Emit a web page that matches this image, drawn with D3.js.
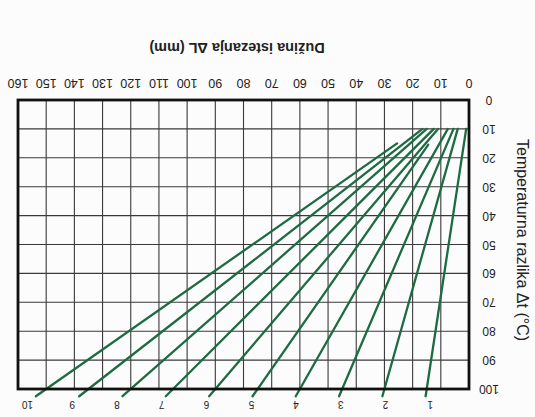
<html>
<head>
<script src="https://d3js.org/d3.v7.min.js"></script>
<style>
  body { margin: 0; background: #fcfcfc; }
  svg { display: block; }
  text { font-family: "Liberation Sans", Arial, sans-serif; fill: #222; }
</style>
</head>
<body>
<svg width="535" height="417"></svg>
<script>
// values
var lengthTicks = [0, 10, 20, 30, 40, 50, 60, 70, 80, 90, 100, 110, 120, 130, 140, 150, 160];
var tempTicks = [0, 10, 20, 30, 40, 50, 60, 70, 80, 90, 100];
var pipeLabels = ["1", "2", "3", "4", "5", "6", "7", "8", "9", "10"];
var startDL = [1, 4, 5.5, 7.5, 14.5, 11, 12.5, 15, 16.5, 25.5];
var startDT = [10, 10, 10, 10, 15.5, 10, 10, 10, 10, 15];
var endDL = [15, 30, 45, 60, 75, 90, 105, 120, 135, 150];
var endDT = [100, 100, 100, 100, 100, 100, 100, 100, 100, 100];

var svg = d3.select("svg");

// the whole figure is printed upside down
var g = svg.append("g").attr("transform", "rotate(180 267.5 208.5)");

var x = d3.scaleLinear().domain([0, 160]).range([66, 517]);
var y = d3.scaleLinear().domain([0, 100]).range([317, 28]);

//grid
g.append("g").selectAll("line").data(lengthTicks).enter().append("line")
  .attr("x1", function(d) { return x(d); })
  .attr("x2", function(d) { return x(d); })
  .attr("y1", y(0)).attr("y2", y(100))
  .attr("stroke", "#3a3a3a").attr("stroke-width", 1.1);

g.append("g").selectAll("line").data(tempTicks).enter().append("line")
  .attr("y1", function(d) { return y(d); })
  .attr("y2", function(d) { return y(d); })
  .attr("x1", x(0)).attr("x2", x(160))
  .attr("stroke", "#3a3a3a").attr("stroke-width", 1.1);

//lines
var lines = pipeLabels.map(function(l, i) {
  var slope = (endDL[i] - startDL[i]) / (endDT[i] - startDT[i]);
  return { label: l, x0: startDL[i], t0: startDT[i], x1: endDL[i], t1: endDT[i], slope: slope };
});

g.append("g").selectAll("line").data(lines).enter().append("line")
  .attr("x1", function(d) { return x(d.x0); })
  .attr("y1", function(d) { return y(d.t0); })
  .attr("x2", function(d) { return x(d.x1 + d.slope * 2.5); })
  .attr("y2", function(d) { return y(d.t1 + 2.5); })
  .attr("stroke", "#1d6b43").attr("stroke-width", 2.3)
  .attr("stroke-linecap", "round");

// frame
g.append("rect")
  .attr("x", x(0)).attr("y", y(100))
  .attr("width", x(160) - x(0)).attr("height", y(0) - y(100))
  .attr("fill", "none").attr("stroke", "#111").attr("stroke-width", 2.8);

// line labels
g.append("g").selectAll("text").data(lines).enter().append("text")
  .attr("x", function(d) { return x(d.x1 + d.slope * 6) - 6; })
  .attr("y", y(105.5))
  .attr("text-anchor", "middle")
  .attr("dominant-baseline", "central")
  .style("font-size", "10px")
  .text(function(d) { return d.label; });

// x tick labels
g.append("g").selectAll("text").data(lengthTicks).enter().append("text")
  .attr("x", function(d) { return x(d); })
  .attr("y", y(0) + 17)
  .attr("text-anchor", "middle")
  .attr("dominant-baseline", "central")
  .style("font-size", "12.5px")
  .text(function(d) { return d; });

// y tick labels
g.append("g").selectAll("text").data(tempTicks).enter().append("text")
  .attr("x", x(0) - 20)
  .attr("y", function(d) { return y(d); })
  .attr("text-anchor", "middle")
  .attr("dominant-baseline", "central")
  .style("font-size", "12px")
  .text(function(d) { return d; });

// axis titles
g.append("text")
  .attr("x", 298).attr("y", y(0) + 52)
  .attr("text-anchor", "middle")
  .attr("dominant-baseline", "central")
  .style("font-size", "14.5px").style("font-weight", "bold")
  .text("Dužina istezanja ΔL (mm)");

g.append("text")
  .attr("transform", "translate(13," + 177 + ") rotate(-90)")
  .attr("text-anchor", "middle")
  .attr("dominant-baseline", "central")
  .style("font-size", "16px")
  .text("Temperaturna razlika Δt  (°C)");
</script>
</body>
</html>
